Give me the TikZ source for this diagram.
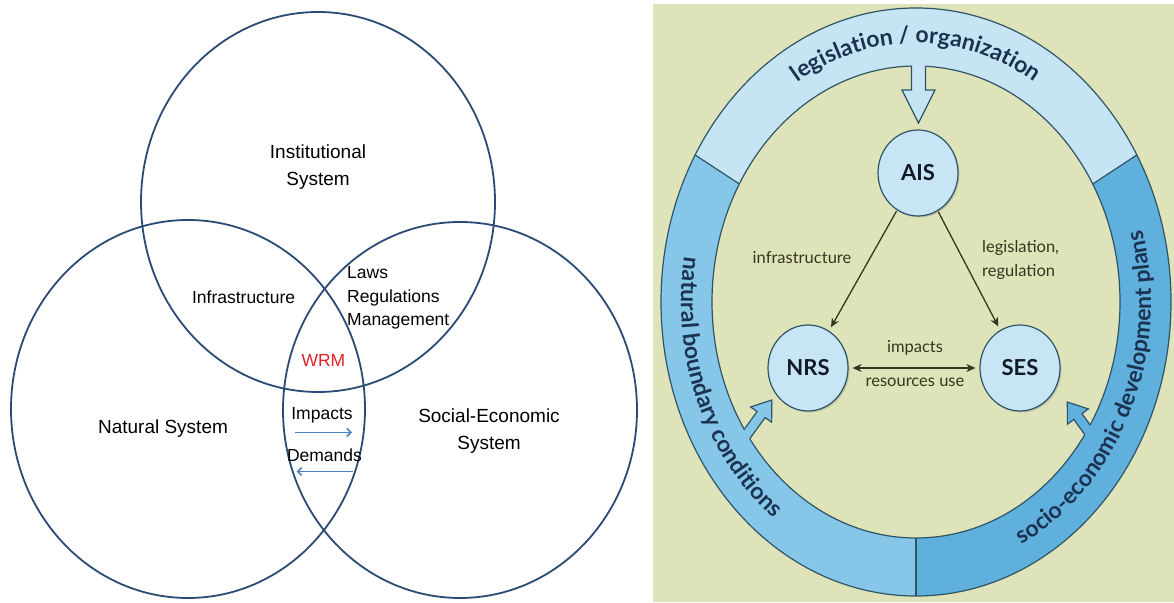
\documentclass[tikz,border=0pt]{standalone}
\usepackage{fontspec}
\setmainfont{Liberation Sans}
\newfontfamily\gill{Lato}
\usetikzlibrary{arrows.meta,decorations.text,shadows,shapes.geometric,calc}

\definecolor{vennline}{HTML}{2B4A75}
\definecolor{vennarrow}{HTML}{4F81BD}
\definecolor{wrmred}{HTML}{E02228}
\definecolor{bgreen}{HTML}{DFE3BA}
\definecolor{bandtop}{HTML}{C6E4F4}
\definecolor{bandleft}{HTML}{86C6E8}
\definecolor{bandright}{HTML}{5FB0DC}
\definecolor{ringline}{HTML}{2E5566}
\definecolor{nodefill}{HTML}{C8E5F6}
\definecolor{ringtext}{HTML}{1B3350}
\definecolor{smalltext}{HTML}{35361F}
\definecolor{nodetext}{HTML}{111A25}

\newcommand{\ringfont}{\gill\bfseries\fontsize{23}{23}\selectfont}

\tikzset{
  venncircle/.style={draw=vennline, line width=1.8pt},
  biglab/.style={font=\fontsize{19}{26.5}\selectfont, align=center, inner sep=0pt},
  inlab/.style={font=\fontsize{17.5}{23.5}\selectfont, inner sep=0pt},
  vennarr/.style={draw=vennarrow, line width=1.6pt, -{Straight Barb[length=4pt,width=8pt]}},
  ringedge/.style={draw=ringline, line width=1.2pt},
  sysnode/.style={ellipse, draw=ringline, line width=1.2pt, fill=nodefill,
    minimum width=80pt, minimum height=86pt, inner sep=0pt,
    font=\gill\bfseries\fontsize{22}{22}\selectfont, text=nodetext,
    drop shadow={shadow xshift=1.5pt, shadow yshift=-1.5pt, opacity=0.35}},
  sysarrow/.style={draw=smalltext, line width=1.3pt, shorten >=4pt, shorten <=1pt,
    -{Stealth[length=9pt,width=8pt]}},
  sysarrowboth/.style={draw=smalltext, line width=1.3pt, shorten >=4pt, shorten <=4pt,
    {Stealth[length=9pt,width=8pt]}-{Stealth[length=9pt,width=8pt]}},
  smalllab/.style={font=\gill\fontsize{16.5}{24}\selectfont, text=smalltext, inner sep=0pt},
  ringtextdeco/.style={decorate, decoration={text along path, text align=center,
    text color=ringtext, text={|\ringfont|#1}}}
}

\begin{document}
\begin{tikzpicture}[x=1pt,y=1pt]
\useasboundingbox (0,0) rectangle (1174,602);
\fill[white] (0,0) rectangle (1174,602);

% ---------------- Venn diagram ----------------
\draw[venncircle] (318,400) ellipse [x radius=177, y radius=190];
\draw[venncircle] (188,193) ellipse [x radius=177, y radius=189];
\draw[venncircle] (460,192) ellipse [x radius=177, y radius=188];

\node[biglab] (inst) at (318,435) {Institutional\\System};
\node[biglab] (nat) at (163,173) {Natural System};
\node[biglab] (soc) at (489,171) {Social-Economic\\System};
\node[inlab] (infra) at (243.6,305) {Infrastructure};
\node[inlab, align=left, anchor=west] (laws) at (347,304) {Laws\\Regulations\\Management};
\node[inlab, text=wrmred] (wrm) at (323.4,241.5) {WRM};
\node[inlab] (imp) at (322,187) {Impacts};
\node[inlab] (dem) at (324.5,146.6) {Demands};
\coordinate (ia) at (294.7,169.6);
\coordinate (ib) at (352,169.6);
\coordinate (da) at (352.8,130.5);
\coordinate (db) at (296.6,130.5);
\draw[vennarr] (ia) -- (ib);
\draw[vennarr] (da) -- (db);

% ---------------- Ring diagram ----------------
\fill[bgreen] (653,0) rectangle (1174,598);

\begin{scope}[shift={(916,300)}]
  \fill[bandtop] (30:255 and 294) arc[start angle=30, end angle=150, x radius=255, y radius=294]
    -- (150:204 and 236) arc[start angle=150, end angle=30, x radius=204, y radius=236] -- cycle;
  \fill[bandleft] (150:255 and 294) arc[start angle=150, end angle=270, x radius=255, y radius=294]
    -- (270:204 and 236) arc[start angle=270, end angle=150, x radius=204, y radius=236] -- cycle;
  \fill[bandright] (270:255 and 294) arc[start angle=270, end angle=390, x radius=255, y radius=294]
    -- (390:204 and 236) arc[start angle=390, end angle=270, x radius=204, y radius=236] -- cycle;
  \draw[ringedge] (0,0) ellipse [x radius=255, y radius=294];
  \draw[ringedge] (0,0) ellipse [x radius=204, y radius=236];
  \draw[ringedge] (30:204 and 236) -- (30:255 and 294);
  \draw[ringedge] (150:204 and 236) -- (150:255 and 294);
  \draw[ringedge] (270:204 and 236) -- (270:255 and 294);

  \path[ringtextdeco={legislation / organization}]
    (150:223 and 259) arc[start angle=150, end angle=30, x radius=223, y radius=259];
  \path[ringtextdeco={natural boundary conditions}]
    (143:235 and 271) arc[start angle=143, end angle=263, x radius=235, y radius=271];
  \path[ringtextdeco={socio-economic development plans}]
    (275:235 and 271) arc[start angle=275, end angle=395, x radius=235, y radius=271];
\end{scope}

% block arrows from the ring
\fill[bandtop] (911.5,541) -- (911.5,512) -- (902,512) -- (918.5,479) -- (935,512)
  -- (925.5,512) -- (925.5,541) -- cycle;
\begin{scope}[shift={(747,168)}, rotate=54]
  \fill[bandleft] (-10,-5) -- (24,-5) -- (24,-13) -- (42,0) -- (24,13) -- (24,5) -- (-10,5) -- cycle;
\end{scope}
\begin{scope}[shift={(1092,166)}, rotate=126]
  \fill[bandright] (-10,-5) -- (24,-5) -- (24,-13) -- (42,0) -- (24,13) -- (24,5) -- (-10,5) -- cycle;
\end{scope}
\begin{scope}
  \clip (916,300) ellipse [x radius=204, y radius=236];
  \draw[ringedge, line join=miter] (911.5,545) -- (911.5,512) -- (902,512) -- (918.5,479) -- (935,512)
    -- (925.5,512) -- (925.5,545);
  \begin{scope}[shift={(747,168)}, rotate=54]
    \draw[ringedge] (-10,-5) -- (24,-5) -- (24,-13) -- (42,0) -- (24,13) -- (24,5) -- (-10,5);
  \end{scope}
  \begin{scope}[shift={(1092,166)}, rotate=126]
    \draw[ringedge] (-10,-5) -- (24,-5) -- (24,-13) -- (42,0) -- (24,13) -- (24,5) -- (-10,5);
  \end{scope}
\end{scope}

% system nodes
\node[sysnode] (ais) at (918,429) {AIS};
\node[sysnode] (nrs) at (808,234) {NRS};
\node[sysnode] (ses) at (1020,234) {SES};

\draw[sysarrow] (ais) -- (nrs);
\draw[sysarrow] (ais) -- (ses);
\draw[sysarrowboth] (nrs) -- (ses);

\node[smalllab] (linf) at (802,344) {infrastructure};
\node[smalllab, align=left, anchor=west] (lleg) at (982,342) {legislation,\\regulation};
\node[smalllab] (limp) at (915,254) {impacts};
\node[smalllab] (lres) at (915,220) {resources use};
\end{tikzpicture}
\end{document}
